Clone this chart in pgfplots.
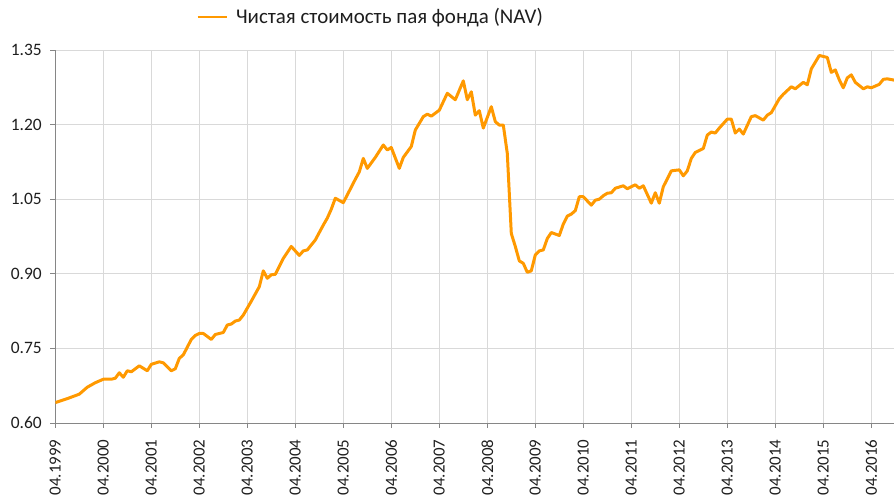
\documentclass[border=0pt]{standalone}
\usepackage{pgfplots}
\usepackage{pgfplotstable}
\pgfplotsset{compat=1.18}
\usepackage{fontspec}
\setmainfont{Carlito}
\definecolor{navorange}{RGB}{255,153,0}
\definecolor{gridgray}{RGB}{217,217,217}
\definecolor{axgray}{RGB}{134,134,134}
\definecolor{txt}{RGB}{30,30,30}
\pgfplotstableread{
m v
0 0.641
3 0.649
6 0.658
8 0.672
10 0.681
12 0.688
14 0.688
15 0.690
16 0.701
17 0.692
18 0.705
19 0.703
21 0.715
23 0.705
24 0.718
26 0.723
27 0.721
29 0.705
30 0.709
31 0.730
32 0.737
34 0.768
35 0.776
36 0.780
37 0.780
39 0.768
40 0.778
42 0.782
43 0.797
44 0.799
45 0.805
46 0.807
47 0.817
49 0.845
51 0.874
52 0.906
53 0.891
54 0.898
55 0.899
57 0.931
59 0.955
61 0.937
62 0.946
63 0.948
65 0.968
67 0.998
68 1.012
69 1.030
70 1.052
72 1.043
75 1.090
76 1.105
77 1.132
78 1.112
80 1.134
82 1.159
83 1.149
84 1.154
86 1.112
87 1.134
89 1.156
90 1.189
92 1.216
93 1.221
94 1.217
96 1.229
98 1.263
100 1.250
102 1.288
103 1.250
104 1.266
105 1.219
106 1.228
107 1.193
109 1.236
110 1.206
111 1.199
112 1.199
113 1.142
114 0.981
115 0.955
116 0.926
117 0.921
118 0.903
119 0.906
120 0.938
121 0.946
122 0.948
123 0.971
124 0.983
126 0.977
127 1.000
128 1.016
129 1.020
130 1.027
131 1.055
132 1.055
134 1.038
135 1.048
136 1.050
137 1.057
138 1.062
139 1.063
140 1.072
142 1.077
143 1.071
145 1.079
146 1.072
147 1.077
149 1.042
150 1.063
151 1.042
152 1.075
154 1.107
156 1.109
157 1.097
158 1.107
159 1.132
160 1.144
162 1.152
163 1.179
164 1.185
165 1.183
166 1.193
168 1.211
169 1.211
170 1.183
171 1.191
172 1.181
174 1.216
175 1.218
177 1.209
178 1.219
179 1.224
181 1.252
182 1.261
184 1.276
185 1.272
187 1.285
188 1.280
189 1.312
191 1.339
192 1.337
193 1.335
194 1.305
195 1.310
196 1.290
197 1.274
198 1.294
199 1.300
200 1.285
202 1.272
203 1.276
204 1.274
206 1.281
207 1.291
208 1.292
210 1.289
}\navdata
\begin{document}
\begin{tikzpicture}
\begin{axis}[
  at={(55.3bp,76bp)}, anchor=south west,
  scale only axis, width=840bp, height=373bp,
  xmin=0, xmax=210, ymin=0.6, ymax=1.35,
  axis lines*=left,
  axis line style={draw=axgray, line width=0.8bp, -},
  tick align=outside, major tick length=5bp,
  tick style={draw=axgray, line width=0.8bp},
  grid=major, major grid style={draw=gridgray, line width=0.8bp},
  xtick={0,12,...,204},
  xticklabels={04.1999,04.2000,04.2001,04.2002,04.2003,04.2004,04.2005,04.2006,04.2007,04.2008,04.2009,04.2010,04.2011,04.2012,04.2013,04.2014,04.2015,04.2016},
  x tick label style={yshift=-8bp, rotate=90, anchor=east, font=\fontsize{17}{19}\selectfont, text=txt},
  ytick={0.6,0.75,0.9,1.05,1.2,1.35},
  y tick label style={xshift=-5bp, font=\fontsize{17.5}{19}\selectfont, text=txt},
  /pgf/number format/.cd, fixed, fixed zerofill, precision=2, assume math mode=true,
  /pgfplots/.cd,
  legend style={draw=none, fill=none, at={(0.1676,1.0885)}, anchor=west, inner sep=0pt,
    font=\fontsize{21}{23}\selectfont, text=txt,
    /tikz/every odd column/.append style={column sep=6bp}},
  legend image code/.code={\draw[#1, line width=2.8bp] (0bp,0bp) -- (29bp,0bp);},
]
\addplot[navorange, line width=3bp, line join=round, mark=none] table[x=m, y=v] {\navdata};
\addlegendentry{Чистая стоимость пая фонда (NAV)}
\end{axis}
\pgfresetboundingbox
\path[use as bounding box] (0,0) rectangle (894bp,499bp);
\end{tikzpicture}
\end{document}
